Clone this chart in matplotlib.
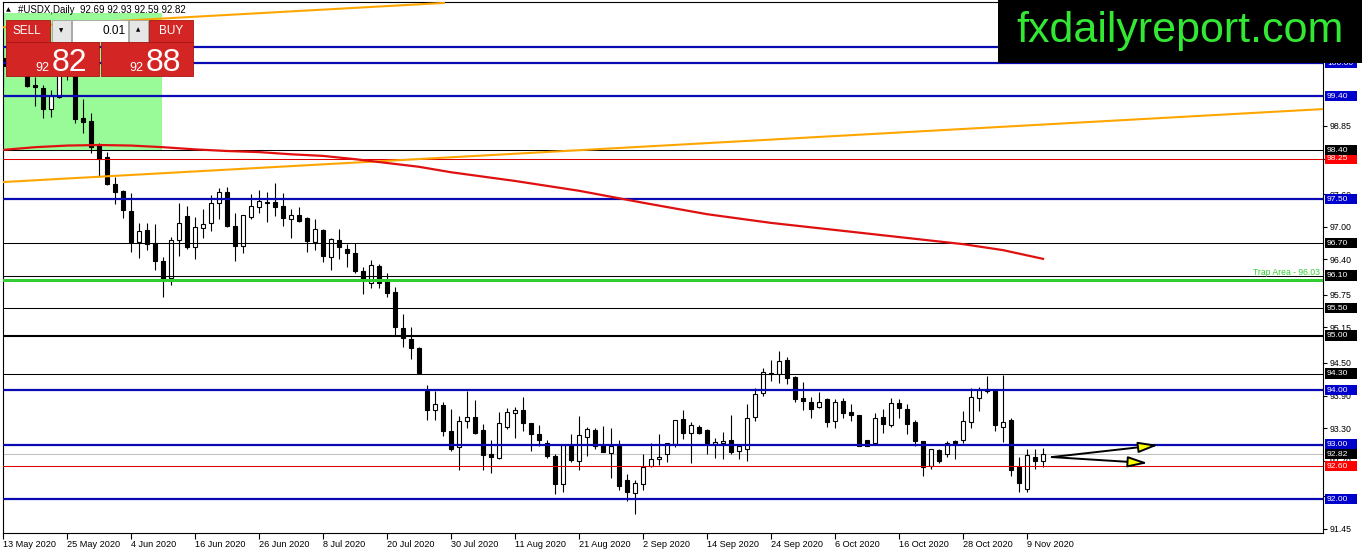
import matplotlib
matplotlib.use('Agg')
import matplotlib.pyplot as plt
from matplotlib.patches import Rectangle
import matplotlib.transforms as mtransforms

plt.rcParams['font.family'] = ['Liberation Sans', 'DejaVu Sans']

# ---------------- data ----------------
opens = [100.10, 99.95, 100.05, 99.85, 99.60, 99.55, 99.16, 99.38, 99.90, 100.02,
         98.99, 98.94, 98.50, 98.28, 97.78, 97.66, 97.29, 96.72, 96.94, 96.70,
         96.37, 96.06, 96.76, 97.20, 96.63, 96.98, 97.07, 97.44, 97.64, 97.01,
         96.65, 97.18, 97.36, 97.46, 97.45, 97.38, 97.14, 97.21, 97.16, 96.72,
         96.94, 96.44, 96.75, 96.59, 96.52, 96.19, 95.97, 96.28, 96.00, 95.80,
         95.14, 94.94, 94.77, 93.98, 93.63, 93.72, 93.24, 92.96, 93.43, 93.51,
         93.26, 92.82, 92.76, 93.32, 93.58, 93.63, 93.40, 93.20, 93.03, 92.79,
         92.27, 92.97, 92.70, 93.14, 93.26, 93.00, 92.85, 92.97, 92.34, 92.11,
         92.27, 92.60, 92.74, 92.83, 93.01, 93.47, 93.22, 93.33, 93.26, 93.01,
         93.03, 93.08, 92.88, 92.92, 93.50, 93.95, 94.32, 94.30, 94.56, 94.24,
         93.85, 93.79, 93.69, 93.84, 93.44, 93.80, 93.59, 93.55, 93.09, 93.02,
         93.51, 93.36, 93.76, 93.66, 93.41, 93.06, 92.60, 92.90, 92.82, 93.06,
         93.08, 93.41, 93.86, 94.02, 93.99, 93.33, 93.46, 92.59, 92.19, 92.78,
         92.69]
highs = [100.25, 100.15, 100.20, 99.95, 99.75, 99.60, 99.51, 100.05, 100.20, 100.10,
         99.35, 99.09, 98.54, 98.37, 97.91, 97.67, 97.62, 97.07, 97.07, 97.05,
         96.44, 96.81, 97.44, 97.38, 97.18, 97.33, 97.58, 97.71, 97.73, 97.25,
         97.21, 97.60, 97.67, 97.64, 97.80, 97.62, 97.33, 97.36, 97.18, 97.14,
         96.96, 96.79, 96.96, 96.68, 96.70, 96.26, 96.39, 96.32, 96.15, 95.89,
         95.40, 95.16, 94.79, 94.09, 93.98, 93.79, 93.66, 93.52, 93.98, 93.81,
         93.37, 93.08, 93.60, 93.68, 93.69, 93.87, 93.40, 93.36, 93.09, 92.82,
         93.00, 93.20, 93.52, 93.32, 93.31, 93.34, 93.30, 93.08, 92.46, 92.34,
         92.83, 93.02, 93.20, 93.03, 93.46, 93.63, 93.42, 93.36, 93.28, 93.12,
         93.23, 93.55, 92.98, 93.75, 94.04, 94.40, 94.56, 94.72, 94.61, 94.26,
         94.15, 93.87, 93.97, 93.86, 93.83, 93.86, 93.75, 93.55, 93.09, 93.58,
         93.65, 93.86, 93.84, 93.74, 93.46, 93.06, 92.92, 92.91, 93.06, 93.09,
         93.61, 94.04, 94.06, 94.26, 93.99, 94.27, 93.49, 92.78, 92.92, 92.92,
         92.93]
lows = [99.58, 99.80, 99.78, 99.57, 99.22, 99.00, 99.01, 99.36, 99.69, 98.90,
        98.72, 98.35, 97.91, 97.76, 97.42, 97.16, 96.54, 96.43, 96.57, 96.20,
        95.71, 95.93, 96.46, 96.59, 96.41, 96.79, 96.92, 97.14, 96.99, 96.37,
        96.52, 97.14, 97.25, 97.09, 97.20, 97.01, 96.79, 97.08, 96.54, 96.57,
        96.35, 96.20, 96.41, 96.26, 96.15, 95.76, 95.87, 95.87, 95.71, 95.01,
        94.79, 94.57, 94.30, 93.45, 93.46, 93.16, 92.89, 92.53, 93.30, 93.20,
        92.53, 92.48, 92.73, 93.28, 93.12, 93.24, 92.88, 92.97, 92.75, 92.10,
        92.12, 92.68, 92.53, 92.79, 92.91, 92.86, 92.38, 92.16, 91.96, 91.72,
        92.16, 92.59, 92.62, 92.68, 92.95, 93.11, 92.67, 93.20, 92.83, 92.75,
        92.73, 92.82, 92.73, 92.70, 93.43, 93.89, 94.17, 94.13, 94.12, 93.79,
        93.63, 93.48, 93.68, 93.32, 93.30, 93.48, 93.44, 92.97, 92.97, 93.00,
        93.22, 93.33, 93.49, 93.19, 92.97, 92.42, 92.56, 92.67, 92.78, 92.74,
        93.03, 93.31, 93.61, 93.95, 93.25, 93.05, 92.43, 92.13, 92.13, 92.56,
        92.59]
closes = [99.95, 100.05, 99.85, 99.58, 99.57, 99.16, 99.40, 99.90, 100.02, 98.98,
          98.92, 98.46, 98.24, 97.78, 97.64, 97.31, 96.72, 96.92, 96.68, 96.37,
          96.04, 96.76, 97.07, 96.63, 97.00, 97.05, 97.44, 97.64, 97.01, 96.65,
          97.21, 97.38, 97.47, 97.44, 97.36, 97.16, 97.21, 97.10, 96.74, 96.96,
          96.46, 96.77, 96.63, 96.52, 96.19, 96.04, 96.30, 95.97, 95.78, 95.16,
          94.96, 94.77, 94.31, 93.63, 93.75, 93.25, 92.91, 93.43, 93.50, 93.22,
          92.81, 92.77, 93.40, 93.60, 93.63, 93.40, 93.20, 93.08, 92.79, 92.27,
          93.00, 92.71, 93.17, 93.28, 92.97, 92.86, 92.98, 92.24, 92.13, 92.29,
          92.59, 92.74, 92.78, 93.03, 93.46, 93.22, 93.35, 93.22, 93.02, 93.05,
          93.07, 92.86, 92.98, 93.49, 93.93, 94.34, 94.29, 94.54, 94.23, 93.84,
          93.80, 93.66, 93.79, 93.41, 93.79, 93.58, 93.54, 92.98, 92.98, 93.49,
          93.37, 93.77, 93.68, 93.37, 93.06, 92.59, 92.91, 92.70, 93.03, 93.02,
          93.43, 93.88, 94.00, 93.98, 93.36, 93.41, 92.54, 92.29, 92.80, 92.70,
          92.82]

date_labels = ['13 May 2020', '25 May 2020', '4 Jun 2020', '16 Jun 2020', '26 Jun 2020',
               '8 Jul 2020', '20 Jul 2020', '30 Jul 2020', '11 Aug 2020', '21 Aug 2020',
               '2 Sep 2020', '14 Sep 2020', '24 Sep 2020', '6 Oct 2020', '16 Oct 2020',
               '28 Oct 2020', '9 Nov 2020']
date_tick_bars = [0, 8, 16, 24, 32, 40, 48, 56, 64, 72, 80, 88, 96, 104, 112, 120, 128]

price_ticks = [91.45, 92.05, 92.70, 93.30, 93.90, 94.50, 95.15, 95.75, 96.40,
               97.00, 97.60, 98.25, 98.85]

# moving average (read at selected bars)
ma_bars = [0, 4, 8, 12, 16, 20, 24, 28, 32, 36, 40, 44, 48, 52, 56, 64, 72, 80,
           88, 96, 104, 112, 120, 125, 130]
ma_vals = [98.41, 98.46, 98.49, 98.50, 98.49, 98.46, 98.42, 98.39, 98.37, 98.33,
           98.30, 98.24, 98.17, 98.10, 98.00, 97.84, 97.66, 97.44, 97.23, 97.07,
           96.94, 96.81, 96.68, 96.57, 96.41]

trend_lo_x = [0, 165]
trend_lo_y = [97.82, 99.16]
trend_hi_x = [0, 55.25]
trend_hi_y = [100.66, 101.11]

blue_levels = [100.30, 100.00, 99.40, 97.50, 94.00, 93.00, 92.00]
black_levels = [98.40, 96.70, 96.10, 95.50, 94.30]
black_thick_levels = [95.00]
red_levels = [98.25, 92.60]
trap_level = 96.03
last_price = 92.82

# labels on the price scale: (value, colour)
scale_labels = [(100.00, '#0000cd'), (99.40, '#0000cd'), (98.25, '#ff0000'), (98.40, 'black'),
                (97.50, '#0000cd'), (96.70, 'black'), (96.10, 'black'), (95.50, 'black'),
                (95.00, 'black'), (94.30, 'black'), (94.00, '#0000cd'), (93.00, '#0000cd'),
                (92.82, 'black'), (92.60, '#ff0000'), (92.00, '#0000cd')]

# ---------------- figure ----------------
W, H = 1362, 554
fig = plt.figure(figsize=(W / 100, H / 100), dpi=100)
ax = fig.add_axes([3 / W, 21 / H, 1320 / W, 531 / H])
ax.set_xlim(0, 165)
ax.set_ylim(91.376, 101.126)
PX = 531 / (101.126 - 91.376)   # pixels per price unit

# green zone
ax.add_patch(Rectangle((0, 98.40), 19.9, 100.92 - 98.40, facecolor='#98fb98',
                       edgecolor='none', zorder=1))

# candles
n = len(opens)
xs = list(range(n))
ax.vlines(xs, lows, highs, color='black', lw=0.8, zorder=3)
bottoms = [min(o, c) for o, c in zip(opens, closes)]
heights = [max(abs(c - o), 0.018) for o, c in zip(opens, closes)]
faces = ['white' if c > o else 'black' for o, c in zip(opens, closes)]
ax.bar(xs, heights, bottom=bottoms, width=0.62, color=faces, edgecolor='black',
       linewidth=0.8, zorder=4)

# horizontal levels
for lv in blue_levels:
    ax.axhline(lv, color='#0a0ab4', lw=1.6, zorder=5)
for lv in black_levels:
    ax.axhline(lv, color='black', lw=0.75, zorder=5)
for lv in black_thick_levels:
    ax.axhline(lv, color='black', lw=1.5, zorder=5)
for lv in red_levels:
    ax.axhline(lv, color='#e00000', lw=0.75, zorder=5)
ax.axhline(trap_level, color='#32cd32', lw=2.2, zorder=5)
ax.axhline(last_price, color='#c0c0c0', lw=0.75, zorder=2)
ax.text(164.6, trap_level + 2.5 / PX, 'Trap Area - 96.03', color='#32cd32', fontsize=6.2,
        ha='right', va='bottom', zorder=6)

# trend lines and moving average
ax.plot(trend_lo_x, trend_lo_y, color='#ffa500', lw=1.5, zorder=6, solid_capstyle='butt')
ax.plot(trend_hi_x, trend_hi_y, color='#ffa500', lw=1.5, zorder=6, solid_capstyle='butt')
ax.plot(ma_bars, ma_vals, color='#e01010', lw=1.6, zorder=6)

# yellow arrows
arrow_start = (131.1, 92.77)
arrow_tips = [(144.4, 92.99), (143.1, 92.66)]
for tip in arrow_tips:
    ax.annotate('', xy=tip, xytext=arrow_start,
                arrowprops=dict(arrowstyle='-|>,head_length=1.2,head_width=0.33',
                                fc='#ffff00', ec='black', lw=1.4,
                                shrinkA=0, shrinkB=0), zorder=7)

# axes styling
for sp in ax.spines.values():
    sp.set_linewidth(0.8)
    sp.set_color('black')
ax.yaxis.tick_right()
ax.set_yticks(price_ticks)
ax.set_yticklabels([f'{v:.2f}' for v in price_ticks])
ax.tick_params(axis='y', direction='out', length=3, width=0.8, pad=1.5, labelsize=6.3)
ax.set_xticks(date_tick_bars)
ax.set_xticklabels(date_labels)
ax.tick_params(axis='x', direction='out', length=4, width=0.8, pad=1, labelsize=6.6)
for lbl in ax.get_xticklabels():
    lbl.set_horizontalalignment('left')

# price scale labels
trans = mtransforms.blended_transform_factory(ax.transAxes, ax.transData)
for val, col in scale_labels:
    x0 = 1 + 1.5 / 1320
    ax.add_patch(Rectangle((x0, val - 5 / PX), 32 / 1320, 10.5 / PX, transform=trans,
                           facecolor=col, edgecolor='none', clip_on=False, zorder=10))
    ax.text(x0 + 2.5 / 1320, val, f'{val:.2f}', transform=trans, color='white',
            fontsize=6.1, va='center', ha='left', clip_on=False, zorder=11)


# ---------------- overlays (pixel coordinates) ----------------
def frect(x0, y0, x1, y1, **kw):
    fig.add_artist(Rectangle((x0 / W, 1 - y1 / H), (x1 - x0) / W, (y1 - y0) / H,
                             transform=fig.transFigure, **kw))


def ftext(x, y, s, **kw):
    fig.text(x / W, 1 - y / H, s, **kw)


# logo
frect(998, 0, W, 63, facecolor='black', edgecolor='none', zorder=20)
ftext(1180, 31, 'fxdailyreport.com', color='#33e833', fontsize=31, ha='center',
      va='center', zorder=21)

# title
ftext(6, 10, '▲', fontsize=4.5, ha='left', va='center', color='black', zorder=21,
      family='DejaVu Sans')
ftext(18, 10, '#USDX,Daily  92.69 92.93 92.59 92.82', fontsize=7, ha='left',
      va='center', color='black', zorder=21)

# trading panel
red = '#d42525'
frect(6, 20, 50, 42, facecolor=red, edgecolor='#a81515', lw=0.6, zorder=20)
frect(149, 20, 193, 42, facecolor=red, edgecolor='#a81515', lw=0.6, zorder=20)
frect(52, 20, 71, 42, facecolor='#e6e6e6', edgecolor='#a0a0a0', lw=0.6, zorder=20)
frect(72, 20, 128, 42, facecolor='white', edgecolor='#a0a0a0', lw=0.6, zorder=20)
frect(129, 20, 148, 42, facecolor='#e6e6e6', edgecolor='#a0a0a0', lw=0.6, zorder=20)
frect(6, 42, 99, 76, facecolor=red, edgecolor='#a81515', lw=0.6, zorder=20)
frect(101, 42, 193, 76, facecolor=red, edgecolor='#a81515', lw=0.6, zorder=20)
ftext(27, 31, 'SELL', fontsize=8.5, color='white', ha='center', va='center', zorder=22)
ftext(171, 31, 'BUY', fontsize=8.5, color='white', ha='center', va='center', zorder=22)
ftext(61.5, 31, '▼', fontsize=4, color='black', ha='center', va='center', zorder=22,
      family='DejaVu Sans')
ftext(138.5, 30, '▲', fontsize=4, color='black', ha='center', va='center', zorder=22,
      family='DejaVu Sans')
ftext(126, 31, '0.01', fontsize=8.5, color='black', ha='right', va='center', zorder=22)
ftext(49, 71, '92', fontsize=9, color='white', ha='right', va='baseline', zorder=22)
ftext(52, 71, '82', fontsize=23, color='white', ha='left', va='baseline', zorder=22)
ftext(143, 71, '92', fontsize=9, color='white', ha='right', va='baseline', zorder=22)
ftext(146, 71, '88', fontsize=23, color='white', ha='left', va='baseline', zorder=22)

fig.savefig('out.png', dpi=100)
